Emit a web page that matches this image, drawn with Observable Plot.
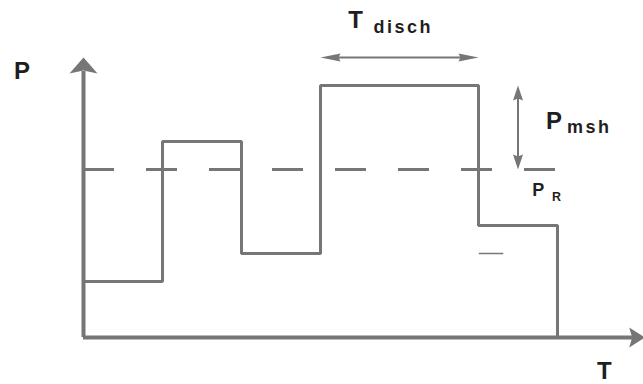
<!DOCTYPE html>
<html>
<head>
<meta charset="utf-8">
<script src="https://cdn.jsdelivr.net/npm/d3@7"></script>
<script src="https://cdn.jsdelivr.net/npm/@observablehq/plot@0.6"></script>
<style>
  html, body { margin: 0; padding: 0; background: #fff; }
  #chart svg { display: block; }
</style>
</head>
<body>
<div id="chart"></div>
<script>
// ---- data (time units, pressure units) ----
const stepTimes     = [0, 1, 2, 3, 5, 6];
const stepPressures = [20, 70, 30, 90, 40, 0];
const referencePressure = 60;           // P_R (dashed)
const dischargeStart = 3, dischargeEnd = 5;   // T_disch span
const peakPressure = 90;                // top of the discharge step
const lowMark = 30;                     // short tick level right of the drop
const axisLabels = ["P", "T"];
const annotationNames = ["T", "disch", "P", "msh", "P", "R"];

const steps = stepTimes.map((t, i) => ({t, p: stepPressures[i]}));

// ---- layout helpers ----
const GRAY = "#767676", INK = "#1f1f1f";
const FONT = "'Liberation Sans', Arial, sans-serif";

function head(dir, len, half, notch = 0) {
  return {
    draw(ctx) {
      const pts = [[0, 0], [-half, len], [0, len - notch], [half, len]];
      const rot = {up: 0, down: Math.PI, right: Math.PI / 2, left: -Math.PI / 2}[dir];
      const c = Math.cos(rot), s = Math.sin(rot);
      pts.forEach(([x, y], i) => {
        const X = x * c - y * s, Y = x * s + y * c;
        i ? ctx.lineTo(X, Y) : ctx.moveTo(X, Y);
      });
      ctx.closePath();
    }
  };
}

const xMax = (643 - 83) / 79;
const txt = (data, opts) => Plot.text(data, {
  textAnchor: "start", lineAnchor: "bottom", fill: INK,
  fontFamily: FONT, fontWeight: "bold", ...opts
});

const chart = Plot.plot({
  width: 643, height: 384,
  marginLeft: 83, marginRight: 0, marginTop: 57, marginBottom: 47,
  x: {domain: [0, xMax], axis: null},
  y: {domain: [0, 100], axis: null},
  style: {background: "#fff", overflow: "visible"},
  marks: [
    Plot.ruleY([referencePressure], {x1: 0, x2: stepTimes[stepTimes.length - 1], stroke: GRAY, strokeWidth: 3, strokeDasharray: "31,32"}),
    Plot.line(steps, {x: "t", y: "p", curve: "step-after", stroke: GRAY, strokeWidth: 3, strokeLinejoin: "miter"}),
    Plot.ruleX([0], {y1: 0, y2: 95, stroke: GRAY, strokeWidth: 4}),
    Plot.ruleY([0], {x1: 0, x2: 7.0, stroke: GRAY, strokeWidth: 4}),
    Plot.dot([{t: 0, p: 100}], {x: "t", y: "p", symbol: head("up", 16, 14, 3), fill: GRAY, stroke: null}),
    Plot.dot([{t: 7.11, p: 0}], {x: "t", y: "p", symbol: head("right", 16, 10, 3), fill: GRAY, stroke: null}),
    Plot.ruleY([100], {x1: dischargeStart + 0.1, x2: dischargeEnd - 0.1, stroke: GRAY, strokeWidth: 2}),
    Plot.dot([{t: dischargeStart, p: 100}], {x: "t", y: "p", symbol: head("left", 20, 4, 2), fill: GRAY, stroke: null}),
    Plot.dot([{t: dischargeEnd, p: 100}], {x: "t", y: "p", symbol: head("right", 20, 4, 2), fill: GRAY, stroke: null}),
    Plot.ruleX([5.5], {y1: referencePressure + 3, y2: peakPressure - 3, stroke: GRAY, strokeWidth: 2}),
    Plot.dot([{t: 5.5, p: peakPressure}], {x: "t", y: "p", symbol: head("up", 15, 5, 2), fill: GRAY, stroke: null}),
    Plot.dot([{t: 5.5, p: referencePressure}], {x: "t", y: "p", symbol: head("down", 15, 5, 2), fill: GRAY, stroke: null}),
    Plot.ruleY([lowMark], {x1: 5.01, x2: 5.32, stroke: GRAY, strokeWidth: 1.5}),
    // labels
    txt([axisLabels[0]], {x: -0.88, y: 92.5, fontSize: 24}),
    txt([axisLabels[1]], {x: 6.50, y: -14.9, fontSize: 24}),
    txt([annotationNames[0]], {x: 3.35, y: 110.4, fontSize: 24}),
    txt([annotationNames[1]], {x: 3.67, y: 108.9, fontSize: 18}),
    txt([annotationNames[2]], {x: 5.855, y: 74.6, fontSize: 24}),
    txt([annotationNames[3]], {x: 6.12, y: 72.9, fontSize: 18}),
    txt([annotationNames[4]], {x: 5.68, y: 50.4, fontSize: 18}),
    txt([annotationNames[5]], {x: 5.93, y: 48.6, fontSize: 12.5})
  ]
});

d3.select(chart).selectAll("text").each(function() {
  const t = this.textContent;
  if (t === "disch" || t === "msh") this.setAttribute("letter-spacing", "2.5");
});

document.getElementById("chart").appendChild(chart);
</script>
</body>
</html>
